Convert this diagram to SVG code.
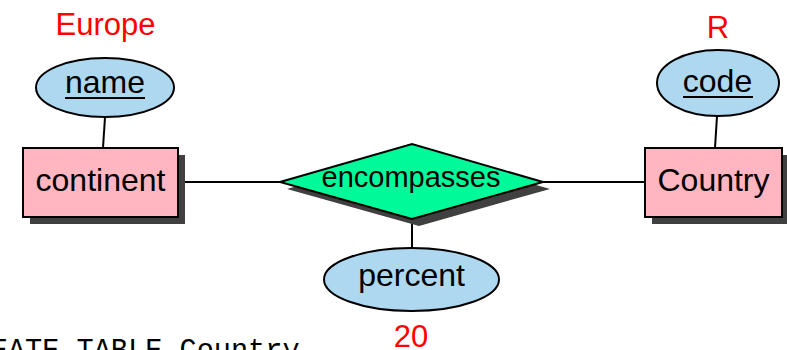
<svg xmlns="http://www.w3.org/2000/svg" width="787" height="350" viewBox="0 0 787 350">
<style>
.t{font-family:"Liberation Sans",Arial,sans-serif;font-size:32px;fill:#000;text-anchor:middle}
.red{font-family:"Liberation Sans",Arial,sans-serif;font-size:31px;fill:#ff0000;text-anchor:middle}
.ent{fill:#ffb6c1;stroke:#000;stroke-width:2}
.attr{fill:#add8f0;stroke:#000;stroke-width:2}
.rel{fill:#00fa9a;stroke:#000;stroke-width:2}
.sh{fill:#404040}
.ln{stroke:#000;stroke-width:2;fill:none}
.mono{font-family:"Liberation Mono","Courier New",monospace;font-size:28.6px;fill:#000}
</style>
<g id="connectors">
<line class="ln" x1="105" y1="117" x2="103" y2="148"/>
<line class="ln" x1="717" y1="116" x2="715" y2="148"/>
<line class="ln" x1="178" y1="182" x2="280" y2="182"/>
<line class="ln" x1="543" y1="182" x2="645" y2="182"/>
<line class="ln" x1="412" y1="219" x2="412" y2="248"/>
</g>
<g id="continent">
<rect class="sh" x="30" y="155" width="155" height="69"/>
<rect class="ent" x="23" y="148" width="155" height="69"/>
<text class="t" x="100.5" y="191">continent</text>
</g>
<g id="Country">
<rect class="sh" x="652" y="155" width="137" height="69"/>
<rect class="ent" x="645" y="148" width="137" height="69"/>
<text class="t" x="713.5" y="191">Country</text>
</g>
<g id="encompasses">
<polygon class="sh" points="287,189 419,151 550,189 419,226"/>
<polygon class="rel" points="280,182 412,144 543,182 412,219"/>
<text class="t" style="font-size:29px" x="411" y="187">encompasses</text>
</g>
<g id="name">
<ellipse class="attr" cx="105" cy="87.5" rx="69" ry="29.5"/>
<text class="t" x="105" y="93">name</text>
<line class="ln" x1="65" y1="98" x2="145" y2="98"/>
</g>
<g id="code">
<ellipse class="attr" cx="718" cy="83" rx="61" ry="33"/>
<text class="t" x="717.5" y="92">code</text>
<line class="ln" x1="683" y1="97" x2="753" y2="97"/>
</g>
<g id="percent">
<ellipse class="attr" cx="411.5" cy="279.5" rx="87.5" ry="31.5"/>
<text class="t" x="411.5" y="286">percent</text>
</g>
<text class="red" x="105.5" y="35">Europe</text>
<text class="red" x="718" y="38">R</text>
<text class="red" x="411" y="347">20</text>
<text class="mono" x="-43.6" y="359">CREATE TABLE Country</text>
</svg>
